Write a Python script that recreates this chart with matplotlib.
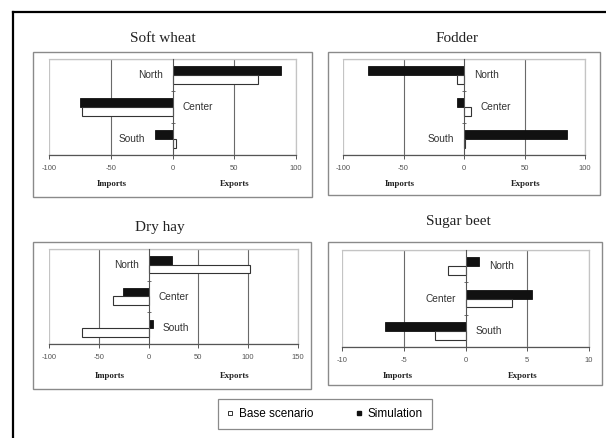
import matplotlib
matplotlib.use("Agg")
import matplotlib.pyplot as plt
from matplotlib.patches import Rectangle
from matplotlib.lines import Line2D

plt.rcParams['axes.unicode_minus'] = False

# ---------------- data ----------------
categories = ["North", "Center", "South"]

soft_base = [69, -73, 3]
soft_sim = [88, -75, -14]

fodder_base = [-6, 5.5, 1]
fodder_sim = [-79, -6, 85]

hay_base = [102, -36, -67]
hay_sim = [23, -26, 4]

beet_base = [-1.4, 3.8, -2.5]
beet_sim = [1.1, 5.4, -6.5]

titles = ["Soft wheat", "Fodder", "Dry hay", "Sugar beet"]
x_ticks = [
    [-100, -50, 0, 50, 100],
    [-100, -50, 0, 50, 100],
    [-100, -50, 0, 50, 100, 150],
    [-10, -5, 0, 5, 10],
]
label_sides = [
    ["L", "R", "L"],
    ["R", "R", "L"],
    ["L", "R", "R"],
    ["R", "L", "R"],
]
legend_labels = ["Base scenario", "Simulation"]

# ---------------- layout ----------------
W, H = 606, 438
fig = plt.figure(figsize=(W / 100, H / 100), dpi=100)


def frect(x0, y0, x1, y1):
    return [x0 / W, 1 - y1 / H, (x1 - x0) / W, (y1 - y0) / H]


def fx(x):
    return x / W


def fy(y):
    return 1 - y / H


# outer frame (top and left only)
fig.add_artist(Line2D([fx(13), fx(606)], [fy(12), fy(12)], color="black", lw=1.6,
                      transform=fig.transFigure))
fig.add_artist(Line2D([fx(13), fx(13)], [fy(12), fy(438)], color="black", lw=1.6,
                      transform=fig.transFigure))

panels = [
    dict(box=(33, 52, 312, 197), plot=(49, 59, 296, 155), title=(163, 39),
         imp=(112, 184), exp=(235, 184), base=soft_base, sim=soft_sim),
    dict(box=(328, 52, 600, 195), plot=(343, 59, 585, 155), title=(457, 39),
         imp=(400, 184), exp=(526, 184), base=fodder_base, sim=fodder_sim),
    dict(box=(33, 242, 311, 389), plot=(49, 249, 298, 344), title=(160, 227),
         imp=(110, 376), exp=(235, 376), base=hay_base, sim=hay_sim),
    dict(box=(328, 242, 602, 385), plot=(342, 250, 589, 347), title=(458, 222),
         imp=(398, 376), exp=(523, 376), base=beet_base, sim=beet_sim),
]

dark = "#555555"
light = "#c4c4c4"
bar_h = 0.27
ypos = [2, 1, 0]

for i, p in enumerate(panels):
    bx0, by0, bx1, by1 = p["box"]
    fig.add_artist(Rectangle((fx(bx0), fy(by1)), fx(bx1) - fx(bx0), fy(by0) - fy(by1),
                             transform=fig.transFigure, fill=False,
                             edgecolor="#8a8a8a", lw=1.0))
    ax = fig.add_axes(frect(*p["plot"]))
    ticks = x_ticks[i]
    ax.set_xlim(ticks[0], ticks[-1])
    ax.set_ylim(-0.5, 2.5)

    for t in ticks[1:-1]:
        if t != 0:
            ax.axvline(t, color="#6a6a6a", lw=0.8, zorder=0)

    ax.barh([y + bar_h / 2 for y in ypos], p["sim"], height=bar_h,
            color="#111111", edgecolor="#111111", lw=0.6, zorder=3)
    ax.barh([y - bar_h / 2 for y in ypos], p["base"], height=bar_h,
            color="white", edgecolor="#333333", lw=0.8, zorder=3)

    # spines
    ax.spines["left"].set_position(("data", 0))
    ax.spines["left"].set_color(dark)
    ax.spines["left"].set_linewidth(0.8)
    ax.spines["left"].set_zorder(4)
    ax.spines["bottom"].set_color(dark)
    ax.spines["bottom"].set_linewidth(0.9)
    for s in ("top", "right"):
        ax.spines[s].set_color(light)
        ax.spines[s].set_linewidth(0.9)
    ax.add_patch(Rectangle((0, 0), 1, 1, transform=ax.transAxes, fill=False,
                           edgecolor=light, lw=0.9, zorder=0))

    ax.set_yticks([0.5, 1.5])
    ax.set_yticklabels([])
    ax.tick_params(axis="y", direction="inout", length=3, color=dark, width=0.6)
    ax.set_xticks(ticks)
    ax.set_xticklabels([str(t) for t in ticks])
    ax.tick_params(axis="x", direction="out", length=3, color=dark, width=0.7,
                   labelsize=5.5, labelcolor="#555555", pad=4)
    for lab in ax.get_xticklabels():
        lab.set_fontfamily("Liberation Sans")

    # category labels
    for k, cat in enumerate(categories):
        vals = [p["base"][k], p["sim"][k]]
        if label_sides[i][k] == "L":
            ax.annotate(cat, (min(0, min(vals)), ypos[k]), xytext=(-7, 0),
                        textcoords="offset points", ha="right", va="center",
                        fontsize=7.3, family="Liberation Sans", color="#333333",
                        zorder=5)
        else:
            ax.annotate(cat, (max(0, max(vals)), ypos[k]), xytext=(7, 0),
                        textcoords="offset points", ha="left", va="center",
                        fontsize=7.3, family="Liberation Sans", color="#333333",
                        zorder=5)

    tx, ty = p["title"]
    fig.text(fx(tx), fy(ty), titles[i], ha="center", va="center", fontsize=11,
             family="Liberation Serif", color="#222222")
    ix, iy = p["imp"]
    fig.text(fx(ix), fy(iy), "Imports", ha="center", va="center", fontsize=6.3,
             family="Liberation Serif", weight="bold", color="#222222")
    ex, ey = p["exp"]
    fig.text(fx(ex), fy(ey), "Exports", ha="center", va="center", fontsize=6.3,
             family="Liberation Serif", weight="bold", color="#222222")

# legend
handles = [
    Line2D([], [], marker="s", linestyle="none", markersize=3.5,
           markerfacecolor="white", markeredgecolor="#333333", markeredgewidth=0.7),
    Line2D([], [], marker="s", linestyle="none", markersize=3.5,
           markerfacecolor="#111111", markeredgecolor="#111111"),
]
leg = fig.legend(handles, legend_labels, loc="center",
                 bbox_to_anchor=(fx(325), fy(414)), ncol=2, frameon=True,
                 fancybox=False, edgecolor="#8a8a8a", framealpha=1,
                 prop={"family": "Liberation Sans", "size": 8.5},
                 handlelength=0.5, handletextpad=0.5, columnspacing=3.6,
                 borderpad=0.75, borderaxespad=0)
leg.get_frame().set_linewidth(0.9)

fig.savefig("out.png", dpi=100, facecolor="white")
